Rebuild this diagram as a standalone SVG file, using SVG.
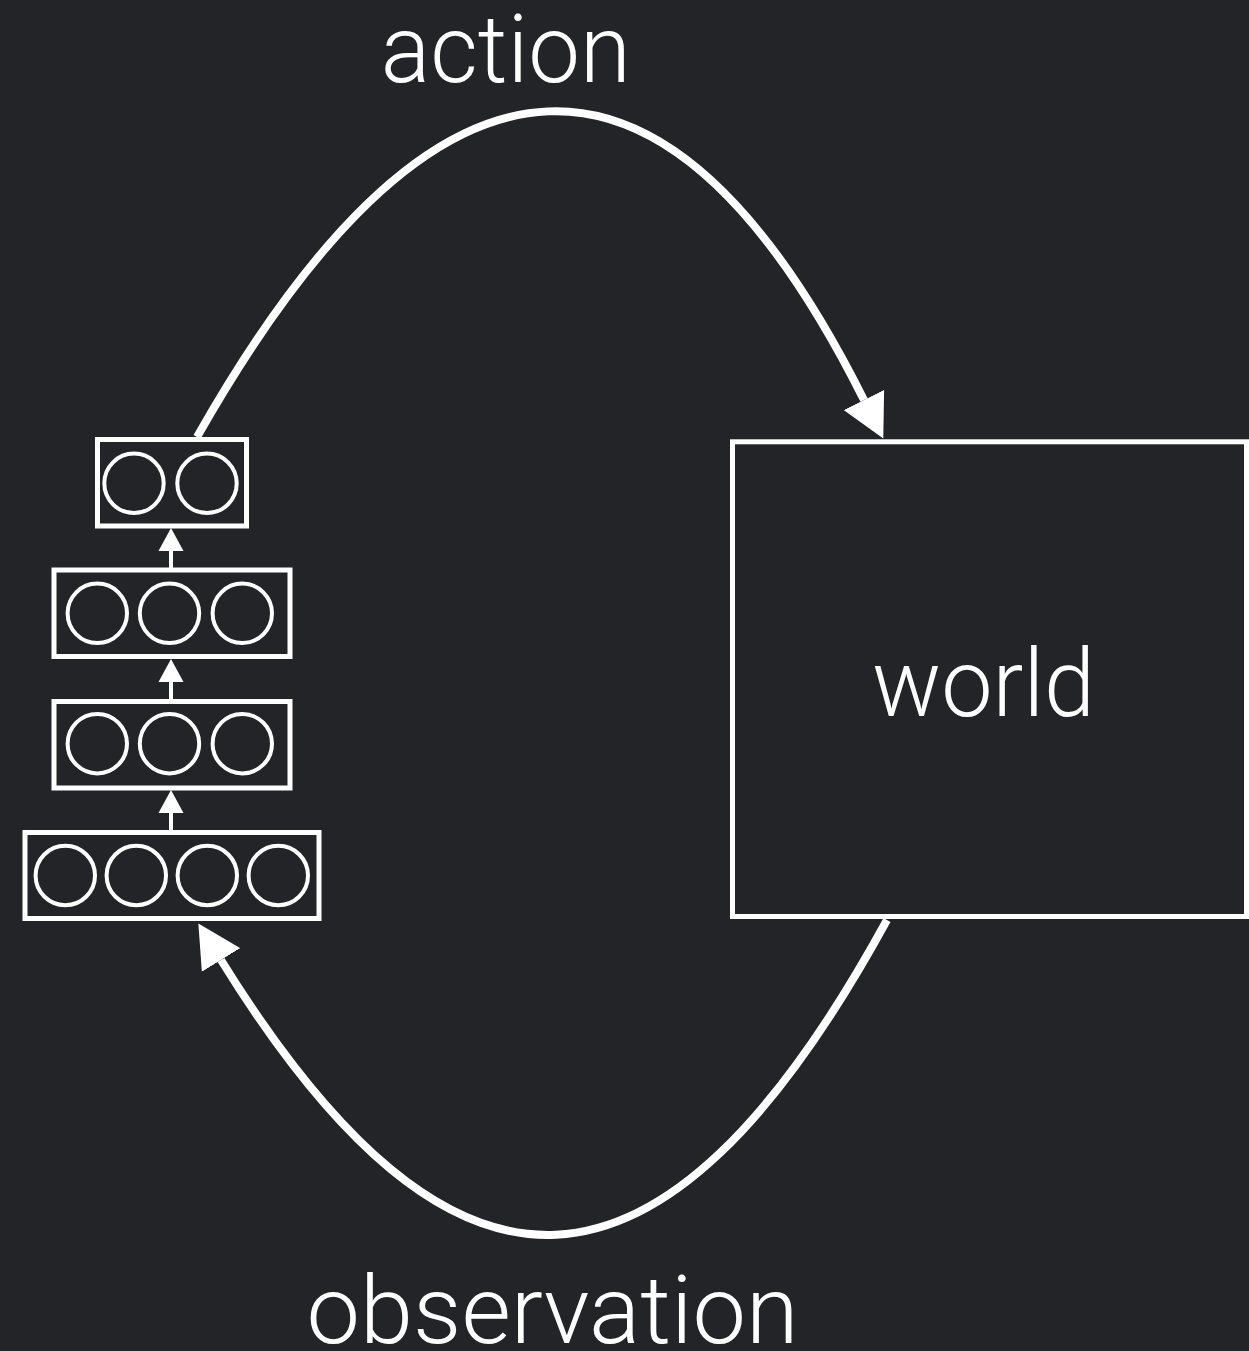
<svg xmlns="http://www.w3.org/2000/svg" width="1249" height="1351" viewBox="0 0 1249 1351">
  <style>
    .bg { fill: #222427; }
    .box { fill: none; stroke: #ffffff; stroke-width: 5; }
    .world { fill: #222427; stroke: #ffffff; stroke-width: 5; }
    .unit { fill: none; stroke: #ffffff; stroke-width: 4; }
    .flow { fill: none; stroke: #ffffff; stroke-width: 8; }
    .link { fill: none; stroke: #ffffff; stroke-width: 4; }
    .label { fill: #ffffff; font-family: Roboto, "Liberation Sans", Arial, sans-serif; font-weight: 300; font-size: 95px; text-anchor: middle; }
  </style>
  <defs>
    <marker id="head" viewBox="0 -23 44 46" refX="0" refY="0" markerWidth="44" markerHeight="46" markerUnits="userSpaceOnUse" orient="auto">
      <path d="M0,-22.5 L43,0 L0,22.5 Z" fill="#ffffff"/>
    </marker>
    <marker id="head-sm" viewBox="0 -13 24 26" refX="0" refY="0" markerWidth="24" markerHeight="26" markerUnits="userSpaceOnUse" orient="auto">
      <path d="M0,-12.5 L23,0 L0,12.5 Z" fill="#ffffff"/>
    </marker>
  </defs>

  <rect class="bg" x="0" y="0" width="1249" height="1351"/>

  <!-- agent network: four stacked layers -->
  <g id="layer-out">
    <rect class="box" x="97.5" y="439.5" width="149" height="86.5"/>
    <circle class="unit" cx="134" cy="483.3" r="29.7"/>
    <circle class="unit" cx="207" cy="483.3" r="29.7"/>
  </g>
  <g id="layer-hidden-2">
    <rect class="box" x="54" y="570" width="236" height="86.5"/>
    <circle class="unit" cx="97.3" cy="613.3" r="29.7"/>
    <circle class="unit" cx="169.5" cy="613.3" r="29.7"/>
    <circle class="unit" cx="242.3" cy="613.3" r="29.7"/>
  </g>
  <g id="layer-hidden-1">
    <rect class="box" x="54" y="701.5" width="236" height="86.5"/>
    <circle class="unit" cx="97.3" cy="743.7" r="29.7"/>
    <circle class="unit" cx="169.5" cy="743.7" r="29.7"/>
    <circle class="unit" cx="242.3" cy="743.7" r="29.7"/>
  </g>
  <g id="layer-in">
    <rect class="box" x="25" y="832.5" width="294" height="86"/>
    <circle class="unit" cx="65.3" cy="875.5" r="29.7"/>
    <circle class="unit" cx="136.3" cy="875.5" r="29.7"/>
    <circle class="unit" cx="207.3" cy="875.5" r="29.7"/>
    <circle class="unit" cx="278.3" cy="875.5" r="29.7"/>
  </g>

  <!-- environment -->
  <g id="world">
    <rect class="world" x="732.5" y="441.8" width="514" height="474.7"/>
    <text class="label" x="983.5" y="716" textLength="223" lengthAdjust="spacingAndGlyphs">world</text>
  </g>

  <!-- connectors -->
  <g id="connectors">
    <line class="link" x1="171" y1="570" x2="171" y2="551" marker-end="url(#head-sm)"/>
    <line class="link" x1="171" y1="701.5" x2="171" y2="682" marker-end="url(#head-sm)"/>
    <line class="link" x1="171" y1="832.5" x2="171" y2="813" marker-end="url(#head-sm)"/>
    <path id="action-arc" class="flow" d="M197,437 C440,9 668,9 864,400" marker-end="url(#head)"/>
    <path id="observation-arc" class="flow" d="M887,920 C661,1333 452,1333 221,960" marker-end="url(#head)"/>
  </g>

  <!-- arc labels -->
  <text class="label" x="505.7" y="81.7" textLength="250" lengthAdjust="spacingAndGlyphs">action</text>
  <text class="label" x="552.5" y="1343" textLength="492" lengthAdjust="spacingAndGlyphs">observation</text>
</svg>
